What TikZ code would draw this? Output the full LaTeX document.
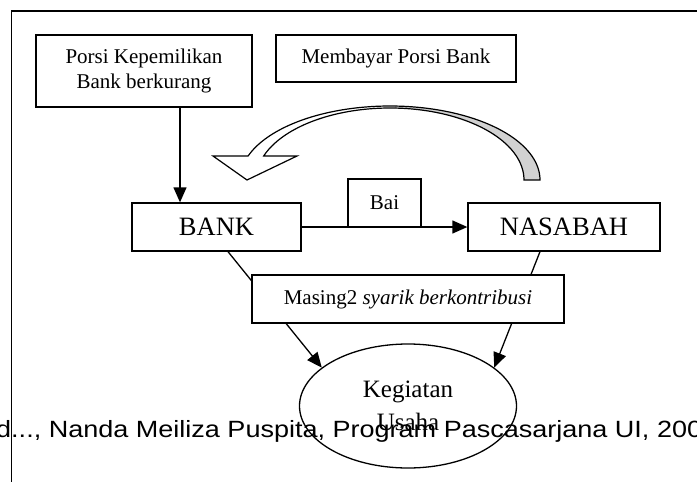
\documentclass[tikz,border=0pt]{standalone}
\usepackage{fontspec}
\setmainfont{Liberation Serif}
\newfontfamily\footfont{Liberation Sans}
\usetikzlibrary{arrows.meta,calc,shapes.geometric}

\begin{document}
\begin{tikzpicture}[x=1pt,y=-1pt,
  box/.style={draw, line width=1.3pt, fill=white, inner sep=0pt},
  lbl/.style={font=\fontsize{21}{25}\selectfont},
  big/.style={font=\fontsize{26.5}{30}\selectfont},
  ln/.style={line width=1.3pt},
  arr/.style={line width=1.3pt, -{Triangle[length=15pt,width=13pt]}},
  band/.style={line width=1.2pt, line join=miter}]

\useasboundingbox (0,0) rectangle (697,482);

% page frame (top and left edges)
\draw[ln] (700,11) -- (11.7,11) -- (11.7,485);

% boxes
\node[box, lbl, align=center, minimum width=216pt, minimum height=72pt] (porsi) at (144,71) {Porsi Kepemilikan\\Bank berkurang};
\node[box, lbl, minimum width=240pt, minimum height=47pt] (bayar) at (396,58.5) {Membayar Porsi Bank};
\node[box, big, minimum width=169pt, minimum height=48pt] (bank) at (216.5,227) {BANK};
\node[box, big, minimum width=192pt, minimum height=48pt] (nasabah) at (564,227) {NASABAH};
\node[box, lbl, minimum width=73pt, minimum height=48pt] (bai) at (384.5,203) {Bai};

% curved block arrow from NASABAH back over to BANK
\fill[gray!35] plot[domain=0:88,samples=40] ({390+150*cos(\x)},{180-74*sin(\x)})
  -- plot[domain=88:0,samples=40] ({390+134*cos(\x)},{180-72*sin(\x)}) -- cycle;
\draw[band] (213,156) -- plot[domain=161.1:0,samples=90] ({390+150*cos(\x)},{180-74*sin(\x)})
  -- plot[domain=0:160.5,samples=90] ({390+134*cos(\x)},{180-72*sin(\x)})
  -- (297,156) -- (247,180) -- cycle;

% connectors
\coordinate (porsifoot) at ($(porsi.south)+(36,0)$);
\draw[arr] (porsifoot) -- (porsifoot |- bank.north);
\draw[arr] (bank.east) -- (nasabah.west);

\node[draw, ellipse, line width=1.3pt, inner sep=0pt, minimum width=217pt, minimum height=124pt,
      align=center, font=\fontsize{25}{33}\selectfont] (keg) at (408,406) {Kegiatan\\Usaha};

\coordinate (bankfoot) at ($(bank.south)+(11.5,0)$);
\coordinate (nasfoot) at ($(nasabah.south)+(-24,0)$);
\draw[arr] (bankfoot) -- (keg.156);
\draw[arr] (nasfoot) -- (keg.24);

\node[box, lbl, minimum width=312pt, minimum height=48pt] (masing) at (408,299) {Masing2 \textit{syarik berkontribusi}};

% footer line
\node[anchor=base west, inner sep=0pt, font=\footfont\fontsize{23.5}{28}\selectfont] (foot) at (-4,437)
  {\scalebox{1.15}[1]{d..., Nanda Meiliza Puspita, Program Pascasarjana UI, 200}};
\end{tikzpicture}
\end{document}
